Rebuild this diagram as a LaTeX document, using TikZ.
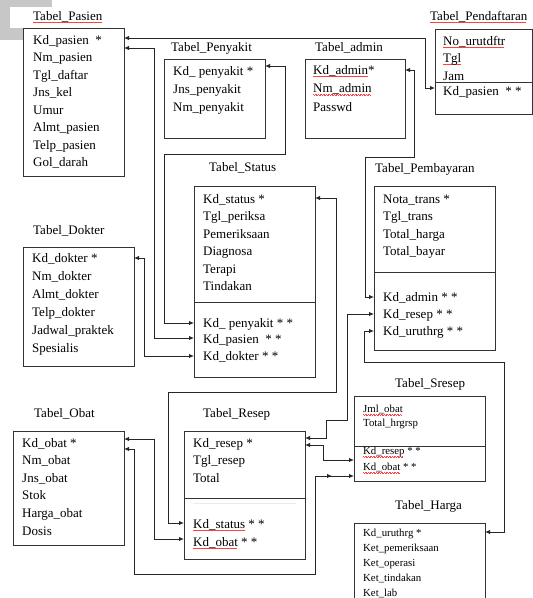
\documentclass[tikz,border=0pt]{standalone}
\usepackage{fontspec}
\setmainfont{Liberation Serif}
\usetikzlibrary{arrows.meta}
\newsavebox\spellbox
\newcommand\spell[1]{\sbox\spellbox{#1}\rlap{\color{red!75}\hbox to\wd\spellbox{\leaders\hbox{\rule[-2.2pt]{0.8pt}{0.4pt}\rule[-2.8pt]{0.8pt}{0.4pt}}\hfill}}#1}
\tikzset{
  tbl/.style={draw=black!80, line width=1pt, fill=white, inner sep=0pt, outer sep=0pt, anchor=north west},
  divl/.style={draw=black!80, line width=1pt},
  row/.style={anchor=base west, inner sep=0pt, font=\fontsize{13pt}{15pt}\selectfont},
  srow/.style={row, font=\fontsize{10.8pt}{13pt}\selectfont},
  link/.style={draw=black!85, line width=0.95pt, >={Latex[length=5pt,width=4.5pt]}, <->},
}
\begin{document}
\begin{tikzpicture}[x=1pt, y=-1pt]
  \useasboundingbox (0,0) rectangle (533,598);
  \clip (0,0) rectangle (533,598);
  \fill[white] (0,0) rectangle (533,598);
  \fill[black!22] (0,0) rectangle (52,40);
  \fill[white] (10,7) rectangle (52,28);

  \node[tbl, minimum width=101pt, minimum height=148pt] (T_pasien) at (23,28) {};
  \node[tbl, minimum width=101pt, minimum height=79pt] (T_penyakit) at (164,59) {};
  \node[tbl, minimum width=100pt, minimum height=79pt] (T_admin) at (305,59) {};
  \node[tbl, minimum width=97pt, minimum height=85pt] (T_pendaftaran) at (435,29) {};
  \node[tbl, minimum width=121pt, minimum height=191pt] (T_status) at (194,186) {};
  \node[tbl, minimum width=121pt, minimum height=164pt] (T_pembayaran) at (374,186) {};
  \node[tbl, minimum width=111pt, minimum height=119pt] (T_dokter) at (23,247) {};
  \node[tbl, minimum width=111pt, minimum height=114pt] (T_obat) at (13,431) {};
  \node[tbl, minimum width=121pt, minimum height=128pt] (T_resep) at (184,431) {};
  \node[tbl, minimum width=131pt, minimum height=85pt] (T_sresep) at (354,396) {};
  \node[tbl, minimum width=131pt, minimum height=90pt] (T_harga) at (354,523) {};

  \draw[divl] ([yshift=-53pt]T_pendaftaran.north west) -- ([yshift=-53pt]T_pendaftaran.north east);
  \draw[divl] ([yshift=-116pt]T_status.north west) -- ([yshift=-116pt]T_status.north east);
  \draw[divl] ([yshift=-86pt]T_pembayaran.north west) -- ([yshift=-86pt]T_pembayaran.north east);
  \draw[divl] ([yshift=-67pt]T_resep.north west) -- ([yshift=-67pt]T_resep.north east);
  \draw[divl] ([yshift=-50pt]T_sresep.north west) -- ([yshift=-50pt]T_sresep.north east);
  \draw[black!8, line width=1pt] ([xshift=9pt,yshift=-72pt]T_resep.north west) -- ([xshift=-9pt,yshift=-72pt]T_resep.north east);

  \node[row] (t_pasien) at (33,20) {\spell{Tabel\_Pasien}};
  \node[row] (t_penyakit) at (171,51) {Tabel\_Penyakit};
  \node[row] (t_admin) at (315,51) {Tabel\_admin};
  \node[row] (t_pendaftaran) at (430,20) {\spell{Tabel\_Pendaftaran}};
  \node[row] (t_status) at (209,171) {Tabel\_Status};
  \node[row] (t_pembayaran) at (375,172) {Tabel\_Pembayaran};
  \node[row] (t_dokter) at (33,234) {Tabel\_Dokter};
  \node[row] (t_obat) at (34,417) {Tabel\_Obat};
  \node[row] (t_resep) at (203,417) {Tabel\_Resep};
  \node[row] (t_sresep) at (395,387) {Tabel\_Sresep};
  \node[row] (t_harga) at (395,509) {Tabel\_Harga};

  \foreach \f [count=\i] in {Kd\_pasien \ *, Nm\_pasien, Tgl\_daftar, Jns\_kel, Umur, Almt\_pasien, Telp\_pasien, Gol\_darah}
    \node[row] (pasien_\i) at (33,{44+17.5*(\i-1)}) {\f};
  \foreach \f [count=\i] in {Kd\_ penyakit *, Jns\_penyakit, Nm\_penyakit}
    \node[row] (penyakit_\i) at (173,{75+18*(\i-1)}) {\f};
  \foreach \f [count=\i] in {\spell{Kd\_admin}*, \spell{Nm\_admin}, Passwd}
    \node[row] (admin_\i) at (313,{74+18.5*(\i-1)}) {\f};
  \foreach \f/\y [count=\i] in {\spell{No\_urutdftr}/45, \spell{Tgl}/62, Jam/80, Kd\_pasien \ * */95}
    \node[row] (pendaftaran_\i) at (443,\y) {\f};
  \foreach \f [count=\i] in {Kd\_status *, Tgl\_periksa, Pemeriksaan, Diagnosa, Terapi, Tindakan}
    \node[row] (status_\i) at (203,{203+17.5*(\i-1)}) {\f};
  \foreach \f [count=\i from 7] in {Kd\_ penyakit * *, Kd\_pasien \ * *, Kd\_dokter * *}
    \node[row] (status_\i) at (203,{327+16.5*(\i-7)}) {\f};
  \foreach \f [count=\i] in {Nota\_trans *, Tgl\_trans, Total\_harga, Total\_bayar}
    \node[row] (pembayaran_\i) at (383,{203+17.5*(\i-1)}) {\f};
  \foreach \f [count=\i from 5] in {Kd\_admin * *, Kd\_resep * *, Kd\_uruthrg * *}
    \node[row] (pembayaran_\i) at (383,{301+17*(\i-5)}) {\f};
  \foreach \f [count=\i] in {Kd\_dokter *, Nm\_dokter, Almt\_dokter, Telp\_dokter, Jadwal\_praktek, Spesialis}
    \node[row] (dokter_\i) at (32,{262+18*(\i-1)}) {\f};
  \foreach \f [count=\i] in {Kd\_obat *, Nm\_obat, Jns\_obat, Stok, Harga\_obat, Dosis}
    \node[row] (obat_\i) at (22,{447+17.6*(\i-1)}) {\f};
  \foreach \f [count=\i] in {Kd\_resep *, Tgl\_resep, Total}
    \node[row] (resep_\i) at (193,{447+17.5*(\i-1)}) {\f};
  \foreach \f [count=\i from 4] in {\spell{Kd\_status} * *, \spell{Kd\_obat} * *}
    \node[row] (resep_\i) at (193,{528+18*(\i-4)}) {\f};
  \foreach \f/\y [count=\i] in {\spell{Jml\_obat}/412.5, Total\_hrgrsp/426.5, \spell{Kd\_resep} * */454.5, \spell{Kd\_obat} * */470.5}
    \node[srow] (sresep_\i) at (363,\y) {\f};
  \foreach \f [count=\i] in {Kd\_uruthrg *, Ket\_pemeriksaan, Ket\_operasi, Ket\_tindakan, Ket\_lab}
    \node[srow] (harga_\i) at (363,{536.5+15*(\i-1)}) {\f};

  \draw[link] ([yshift=-10pt]T_pasien.north east) -- ++(301,0) |- ([yshift=-59pt]T_pendaftaran.north west);
  \draw[link] ([yshift=-20pt]T_pasien.north east) -- ++(30,0) |- ([yshift=-152pt]T_status.north west);
  \draw[link] ([yshift=-7pt]T_penyakit.north east) -- ++(20,0) -- ++(0,88) -- ++(-121,0) |- ([yshift=-137pt]T_status.north west);
  \draw[link] ([yshift=-11pt]T_dokter.north east) -- ++(10,0) |- ([yshift=-170pt]T_status.north west);
  \draw[link] ([yshift=-12pt]T_status.north east) -- ++(21,0) -- ++(0,194) -- ++(-168,0) |- ([yshift=-92pt]T_resep.north west);
  \draw[link] ([yshift=-11pt]T_admin.north east) -- ++(9,0) -- ++(0,87) -- ++(-49,0) |- ([yshift=-111pt]T_pembayaran.north west);
  \draw[link] ([yshift=-128pt]T_pembayaran.north west) -- ++(-27,0) -- ++(0,106) -- ++(-21,0) |- ([yshift=-7pt]T_resep.north east);
  \draw[link] ([yshift=-14pt]T_resep.north east) -- ++(18,0) |- ([yshift=-64pt]T_sresep.north west);
  \draw[link] ([yshift=-80pt]T_sresep.north west) -- ++(-39,0) -- ++(0,98) -- ++(-181,0) |- ([yshift=-18pt]T_obat.north east);
  \draw[link, ->] ([yshift=-80pt]T_sresep.north west) ++(-39,0) -- ++(17,0);
  \draw[link] ([yshift=-8pt]T_obat.north east) -- ++(30,0) |- ([yshift=-108pt]T_resep.north west);
  \draw[link] ([yshift=-145pt]T_pembayaran.north west) -- ++(-10,0) -- ++(0,31) -- ++(140,0) |- ([yshift=-9pt]T_harga.north east);
\end{tikzpicture}
\end{document}
